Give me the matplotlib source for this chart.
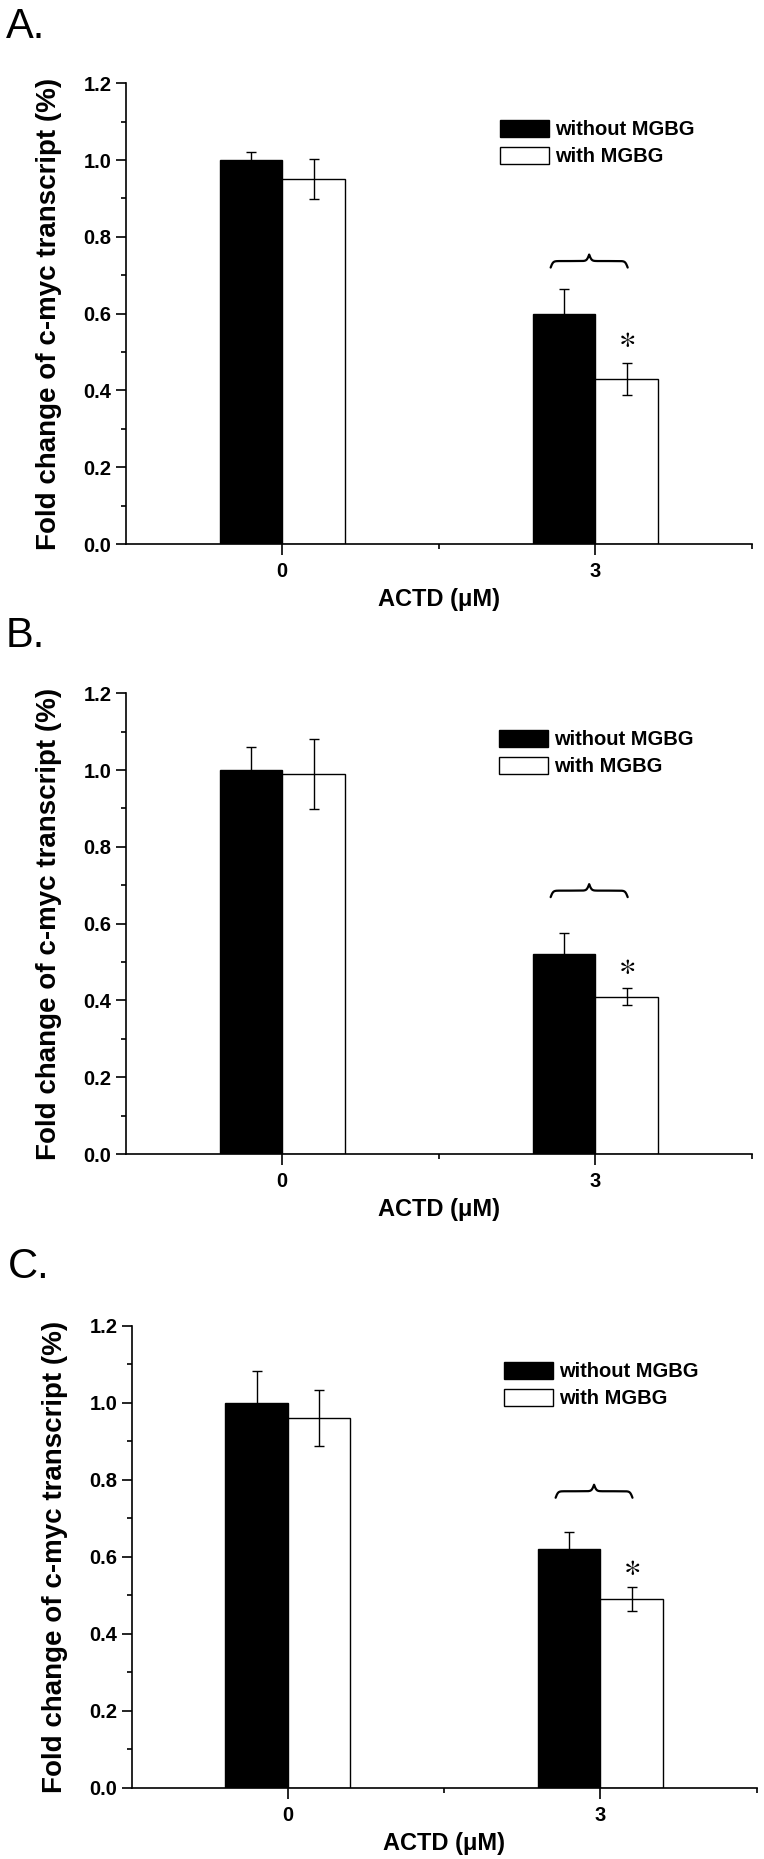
import numpy as np
import matplotlib
matplotlib.use('Agg')
import matplotlib.pyplot as plt
from matplotlib.patches import Patch

# ---------------- data ----------------
categories = ['0', '3']
series_names = ['without MGBG', 'with MGBG']
panel_labels = ['A.', 'B.', 'C.']

without_A = [1.00, 0.60]
without_A_err = [0.022, 0.065]
with_A = [0.95, 0.43]
with_A_err = [0.052, 0.041]

without_B = [1.00, 0.52]
without_B_err = [0.060, 0.055]
with_B = [0.99, 0.41]
with_B_err = [0.092, 0.022]

without_C = [1.00, 0.62]
without_C_err = [0.082, 0.045]
with_C = [0.96, 0.49]
with_C_err = [0.072, 0.032]

brace_y = [0.737, 0.686, 0.770]      # level of the significance brace
brace_x = [0.857, 1.103]             # horizontal extent of the brace
star_y = [0.535, 0.490, 0.574]       # position of the asterisk
star_x = 1.10

x_label = 'ACTD (\u03bcM)'
y_label = 'Fold change of c-myc transcript (%)'

panels = [
    (without_A, without_A_err, with_A, with_A_err),
    (without_B, without_B_err, with_B, with_B_err),
    (without_C, without_C_err, with_C, with_C_err),
]

# ---------------- layout (pixels) ----------------
W, H = 764, 1859
axes_px = [(125.7, 752, 83.3, 544), (125.7, 752, 693.3, 1154), (131.7, 756.5, 1325.7, 1787.7)]
letter_px = [(6, 38), (6, 647), (8, 1278)]
legend_px = [(500, 119.5), (499, 729.5), (504, 1361.5)]

plt.rcParams['font.family'] = ['Liberation Sans', 'DejaVu Sans']

fig = plt.figure(figsize=(W / 100, H / 100), dpi=100)

bar_w = 0.2
xpos = np.arange(len(categories))


def draw_brace(ax, x0, x1, y, h):
    xs = np.linspace(x0, x1, 401)
    half = xs[:201]
    beta = 260.0
    yh = (1 / (1 + np.exp(-beta * (half - half[0]))) +
          1 / (1 + np.exp(-beta * (half - half[-1]))))
    ys = np.concatenate([yh, yh[-2::-1]])
    ax.plot(xs, y + (ys - 1.0) * h, color='black', lw=1.6, solid_capstyle='round')


for i, (blk, blk_e, wht, wht_e) in enumerate(panels):
    l, r, t, b = axes_px[i]
    ax = fig.add_axes([l / W, 1 - b / H, (r - l) / W, (b - t) / H])
    ax_h_px = b - t

    ax.bar(xpos - bar_w / 2, blk, bar_w, color='black', edgecolor='black', linewidth=1.0, zorder=2)
    ax.bar(xpos + bar_w / 2, wht, bar_w, color='white', edgecolor='black', linewidth=1.0, zorder=2)
    ax.errorbar(xpos - bar_w / 2, blk, yerr=blk_e, fmt='none', ecolor='black',
                elinewidth=1.0, capsize=3.3, capthick=1.0, zorder=3)
    ax.errorbar(xpos + bar_w / 2, wht, yerr=wht_e, fmt='none', ecolor='black',
                elinewidth=1.0, capsize=3.3, capthick=1.0, zorder=3)

    ax.set_xlim(-0.5, 1.5)
    ax.set_ylim(0, 1.2)
    ax.set_xticks(xpos)
    ax.set_xticklabels(categories)
    ax.set_xticks([0.5, 1.5], minor=True)
    yt = np.round(np.arange(0, 1.21, 0.2), 1)
    ax.set_yticks(yt)
    ax.set_yticklabels(['%.1f' % v for v in yt])
    ax.set_yticks(np.round(np.arange(0.1, 1.2, 0.2), 1), minor=True)

    for s in ['top', 'right']:
        ax.spines[s].set_visible(False)
    for s in ['left', 'bottom']:
        ax.spines[s].set_linewidth(1.2)

    ax.tick_params(axis='y', which='major', direction='out', length=7.2, width=1.2,
                   labelsize=14.5, pad=3)
    ax.tick_params(axis='y', which='minor', direction='out', length=3.6, width=1.2)
    ax.tick_params(axis='x', which='major', direction='out', length=8, width=1.2,
                   labelsize=14.5, pad=5)
    ax.tick_params(axis='x', which='minor', direction='out', length=3.6, width=1.2)
    for lab in ax.get_xticklabels() + ax.get_yticklabels():
        lab.set_fontweight('bold')

    ax.set_xlabel(x_label, fontsize=17, fontweight='bold', labelpad=5)
    ax.set_ylabel(y_label, fontsize=20, fontweight='bold')
    ax.yaxis.set_label_coords(-0.102, 0.5)

    # legend
    lx_px, ly_px = legend_px[i]
    handles = [Patch(facecolor='black', edgecolor='black', linewidth=1.0),
               Patch(facecolor='white', edgecolor='black', linewidth=1.0)]
    ax.legend(handles, series_names, loc='upper left',
              bbox_to_anchor=((lx_px - l) / (r - l), 1 - (ly_px - t) / ax_h_px),
              frameon=False, borderpad=0, borderaxespad=0,
              handlelength=2.45, handleheight=0.98, handletextpad=0.3,
              labelspacing=0.36, prop=dict(weight='bold', size=14.5))

    # significance brace and star
    draw_brace(ax, brace_x[0], brace_x[1], brace_y[i], 13 * 1.2 / ax_h_px)
    ax.text(star_x, star_y[i], r'$\ast$', ha='center', va='center', fontsize=24,
            math_fontfamily='stix', color='black')

    fig.text(letter_px[i][0] / W, 1 - letter_px[i][1] / H, panel_labels[i],
             fontsize=30, ha='left', va='baseline')

fig.savefig('out.png', dpi=100)
